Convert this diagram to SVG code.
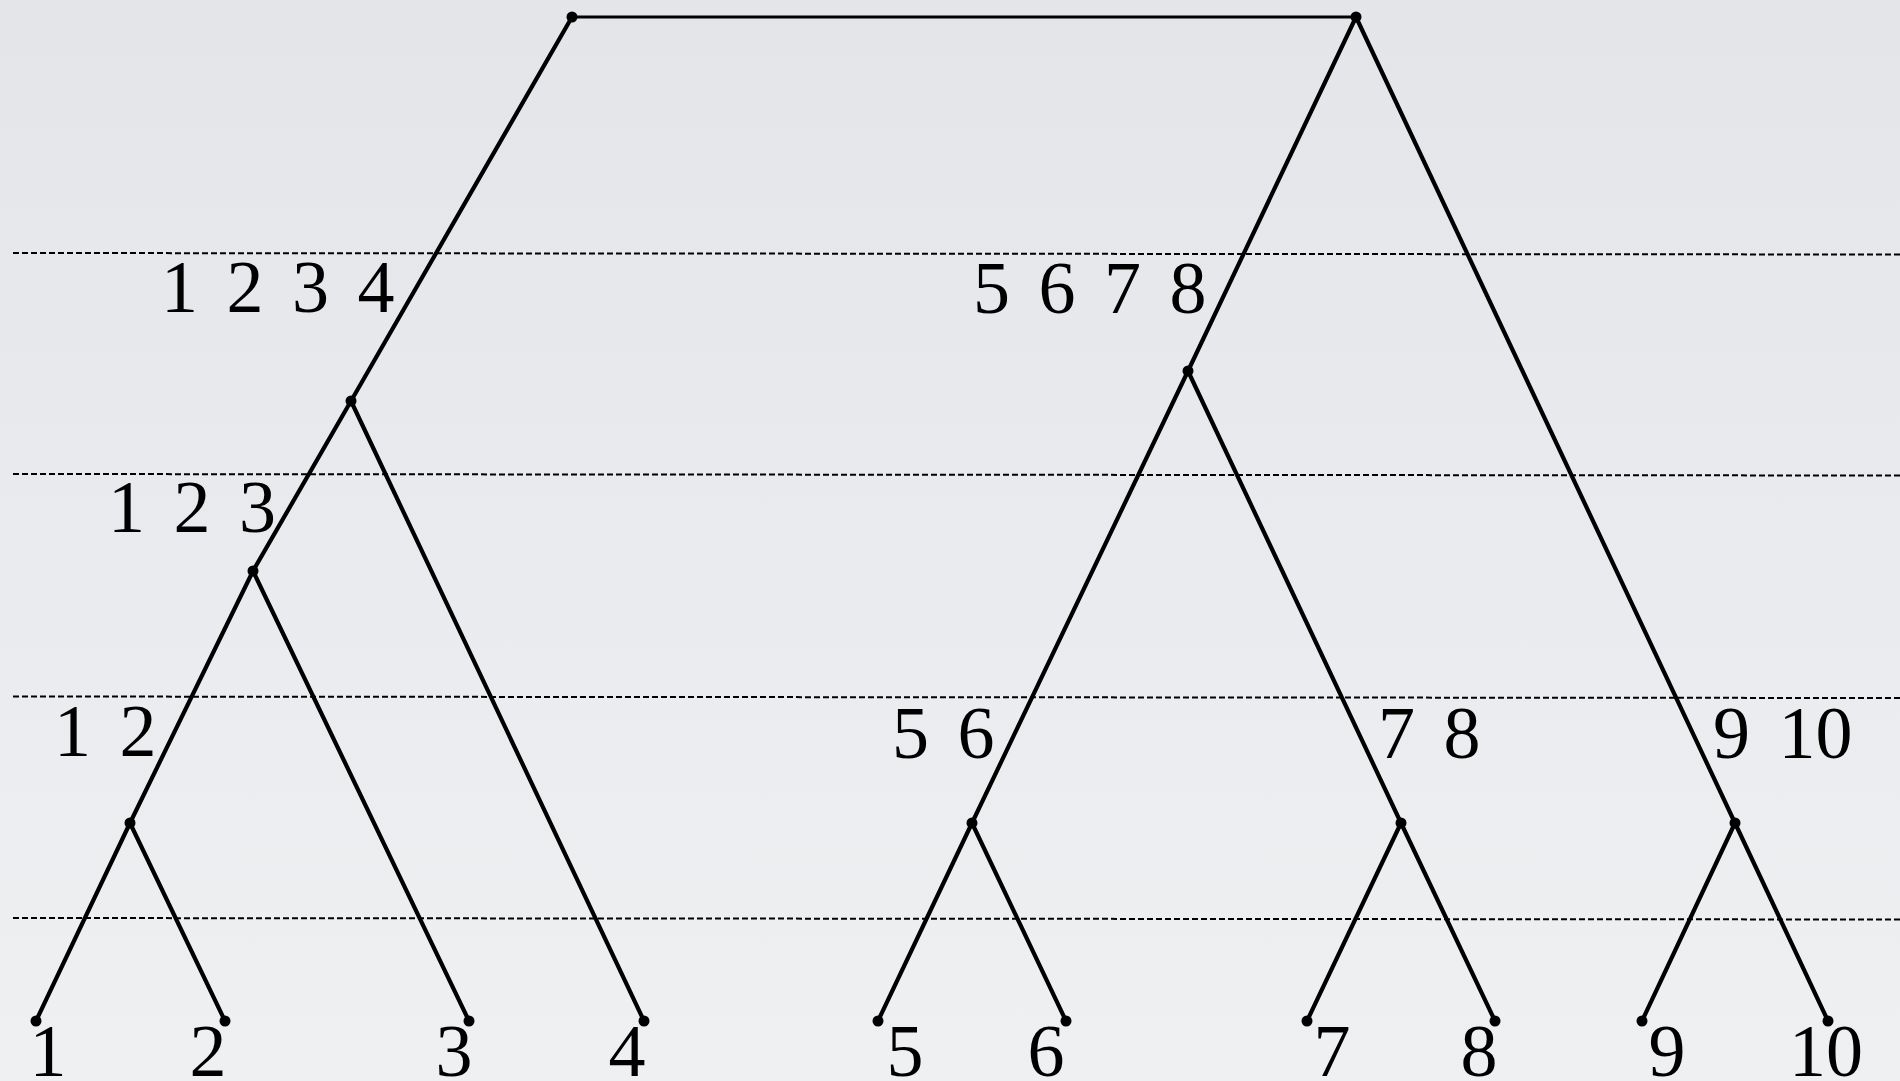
<svg xmlns="http://www.w3.org/2000/svg" width="1900" height="1081" viewBox="0 0 1900 1081">
<defs>
<linearGradient id="bg" x1="0" y1="0" x2="0" y2="1">
<stop offset="0" stop-color="#e3e5e9"/>
<stop offset="1" stop-color="#eff0f2"/>
</linearGradient>
<style>
.edge{stroke:#000;stroke-width:4.2;fill:none;stroke-linecap:round}
.top{stroke:#000;stroke-width:2.8;fill:none}
.dash{stroke:#000;stroke-width:2;stroke-dasharray:6 3;fill:none}
.dot{fill:#000}
.lbl{font-family:"Liberation Serif","DejaVu Serif",serif;font-size:74px;fill:#000;word-spacing:10px}
.leaf{font-family:"Liberation Serif","DejaVu Serif",serif;font-size:74px;fill:#000;text-anchor:middle}
</style>
</defs>
<rect width="1900" height="1081" fill="url(#bg)"/>
<g id="levels">
<line class="dash" x1="13" y1="253" x2="1900" y2="254.5"/>
<line class="dash" x1="13" y1="474" x2="1900" y2="475.5"/>
<line class="dash" x1="13" y1="696.5" x2="1900" y2="698"/>
<line class="dash" x1="13" y1="918" x2="1900" y2="919.5"/>
</g>
<g id="connectors">
<line class="top" x1="572" y1="17" x2="1356" y2="17"/>
<line class="edge" x1="572" y1="17" x2="351" y2="401"/>
<line class="edge" x1="351" y1="401" x2="253" y2="571"/>
<line class="edge" x1="351" y1="401" x2="644" y2="1021"/>
<line class="edge" x1="253" y1="571" x2="130" y2="823"/>
<line class="edge" x1="253" y1="571" x2="469" y2="1021"/>
<line class="edge" x1="130" y1="823" x2="36" y2="1021"/>
<line class="edge" x1="130" y1="823" x2="225" y2="1021"/>
<line class="edge" x1="1356" y1="17" x2="1188" y2="371"/>
<line class="edge" x1="1356" y1="17" x2="1735" y2="823"/>
<line class="edge" x1="1188" y1="371" x2="972" y2="823"/>
<line class="edge" x1="1188" y1="371" x2="1401" y2="823"/>
<line class="edge" x1="972" y1="823" x2="878" y2="1021"/>
<line class="edge" x1="972" y1="823" x2="1066" y2="1021"/>
<line class="edge" x1="1401" y1="823" x2="1307" y2="1021"/>
<line class="edge" x1="1401" y1="823" x2="1495" y2="1021"/>
<line class="edge" x1="1735" y1="823" x2="1642" y2="1021"/>
<line class="edge" x1="1735" y1="823" x2="1828" y2="1021"/>
</g>
<g id="n-root-left"><circle class="dot" cx="572" cy="17" r="5.5"/></g>
<g id="n-root-right"><circle class="dot" cx="1356" cy="17" r="5.5"/></g>
<g id="n-1234"><circle class="dot" cx="351" cy="401" r="5.5"/><text class="lbl" x="161" y="312">1 2 3 4</text></g>
<g id="n-123"><circle class="dot" cx="253" cy="571" r="5.5"/><text class="lbl" x="108" y="532">1 2 3</text></g>
<g id="n-12"><circle class="dot" cx="130" cy="823" r="5.5"/><text class="lbl" x="54" y="756">1 2</text></g>
<g id="n-5678"><circle class="dot" cx="1188" cy="371" r="5.5"/><text class="lbl" x="973" y="313">5 6 7 8</text></g>
<g id="n-56"><circle class="dot" cx="972" cy="823" r="5.5"/><text class="lbl" x="892" y="758">5 6</text></g>
<g id="n-78"><circle class="dot" cx="1401" cy="823" r="5.5"/><text class="lbl" x="1378" y="758">7 8</text></g>
<g id="n-910"><circle class="dot" cx="1735" cy="823" r="5.5"/><text class="lbl" x="1713" y="758">9 10</text></g>
<g id="leaf-1"><circle class="dot" cx="36" cy="1021" r="5.5"/><text class="leaf" x="48" y="1076">1</text></g>
<g id="leaf-2"><circle class="dot" cx="225" cy="1021" r="5.5"/><text class="leaf" x="208" y="1076">2</text></g>
<g id="leaf-3"><circle class="dot" cx="469" cy="1021" r="5.5"/><text class="leaf" x="454" y="1076">3</text></g>
<g id="leaf-4"><circle class="dot" cx="644" cy="1021" r="5.5"/><text class="leaf" x="627" y="1076">4</text></g>
<g id="leaf-5"><circle class="dot" cx="878" cy="1021" r="5.5"/><text class="leaf" x="905" y="1076">5</text></g>
<g id="leaf-6"><circle class="dot" cx="1066" cy="1021" r="5.5"/><text class="leaf" x="1046" y="1076">6</text></g>
<g id="leaf-7"><circle class="dot" cx="1307" cy="1021" r="5.5"/><text class="leaf" x="1332" y="1076">7</text></g>
<g id="leaf-8"><circle class="dot" cx="1495" cy="1021" r="5.5"/><text class="leaf" x="1479" y="1076">8</text></g>
<g id="leaf-9"><circle class="dot" cx="1642" cy="1021" r="5.5"/><text class="leaf" x="1667" y="1076">9</text></g>
<g id="leaf-10"><circle class="dot" cx="1828" cy="1021" r="5.5"/><text class="leaf" x="1826" y="1076">10</text></g>
</svg>
